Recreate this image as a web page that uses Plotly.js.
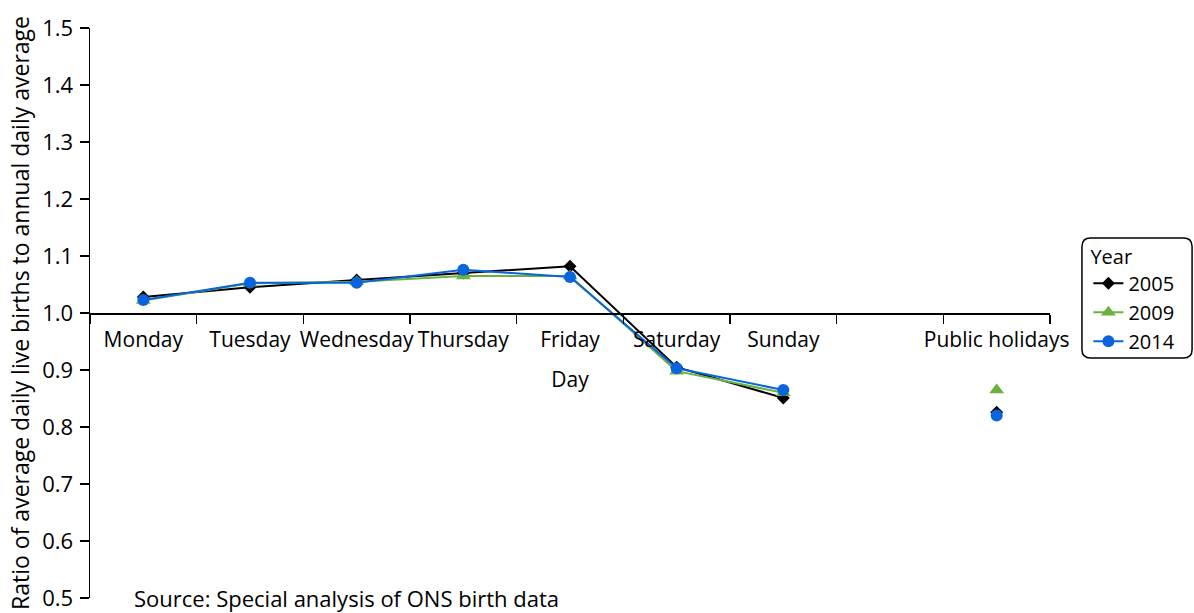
<!DOCTYPE html>
<html>
<head>
<meta charset="utf-8">
<script src="https://cdn.plot.ly/plotly-3.0.1.min.js"></script>
<style>html,body{margin:0;padding:0;background:#fff;}#chart{width:1194px;height:613px;}</style>
</head>
<body>
<div id="chart"></div>
<script>
const days = ["Monday", "Tuesday", "Wednesday", "Thursday", "Friday", "Saturday", "Sunday", " ", "Public holidays"];
const years = ["2005", "2009", "2014"];
const y2005 = [1.028, 1.045, 1.058, 1.070, 1.082, 0.905, 0.851, null, 0.826];
const y2009 = [1.022, 1.052, 1.055, 1.065, 1.065, 0.898, 0.860, null, 0.865];
const y2014 = [1.023, 1.053, 1.053, 1.076, 1.063, 0.903, 0.865, null, 0.820];
const yTicks = [0.5, 0.6, 0.7, 0.8, 0.9, 1.0, 1.1, 1.2, 1.3, 1.4, 1.5];

const FONT = "Open Sans, Noto Sans, DejaVu Sans, sans-serif";
const FS = 22;
const series = [
  {name: years[0], y: y2005, color: "#000000", symbol: "diamond", size: 10},
  {name: years[1], y: y2009, color: "#6ab23e", symbol: "triangle-up", size: 13},
  {name: years[2], y: y2014, color: "#0a64dc", symbol: "circle", size: 12}
];
const traces = series.map(s => ({
  type: "scatter", mode: "lines+markers", x: days, y: s.y, name: s.name,
  connectgaps: false, cliponaxis: false,
  line: {color: s.color, width: 2},
  marker: {color: s.color, symbol: s.symbol, size: s.size}
}));

// rounded legend box
const x0 = 1.0333, x1 = 1.148, yb = 0.421, yt = 0.6316, rx = 0.009, ry = 0.015;
const boxPath = `M ${x0+rx} ${yb} L ${x1-rx} ${yb} Q ${x1} ${yb} ${x1} ${yb+ry} L ${x1} ${yt-ry} Q ${x1} ${yt} ${x1-rx} ${yt} L ${x0+rx} ${yt} Q ${x0} ${yt} ${x0} ${yt-ry} L ${x0} ${yb+ry} Q ${x0} ${yb} ${x0+rx} ${yb} Z`;

const layout = {
  width: 1194, height: 613,
  margin: {l: 90, r: 144, t: 28, b: 15},
  paper_bgcolor: "#fff", plot_bgcolor: "#fff",
  font: {family: FONT, size: FS, color: "#000"},
  showlegend: true,
  legend: {
    x: 1.040, y: 0.632, xanchor: "left", yanchor: "top",
    title: {text: "Year", font: {size: 20}},
    font: {size: 20}, bgcolor: "rgba(0,0,0,0)", borderwidth: 0,
    tracegroupgap: 0
  },
  xaxis: {
    type: "category", categoryorder: "array", categoryarray: days,
    range: [-0.5, 8.5], anchor: "free", position: 0.5,
    showline: true, linecolor: "#000", linewidth: 1.5,
    ticks: "outside", ticklen: 9, tickwidth: 1.5, tickcolor: "#000",
    tickson: "boundaries", showgrid: false, zeroline: false,
    tickangle: 0, tickfont: {size: 21}, ticklabelstandoff: 7,
    title: {text: "Day", font: {size: 21}, standoff: 20}
  },
  yaxis: {
    range: [0.5, 1.5], tickvals: yTicks, tickformat: ".1f",
    showline: true, linecolor: "#000", linewidth: 1.5,
    ticks: "outside", ticklen: 9, tickwidth: 1.5, tickcolor: "#000",
    showgrid: false, zeroline: false,
    tickfont: {size: FS}, ticklabelstandoff: 2,
    title: {text: "Ratio of average daily live births to annual daily average", font: {size: 23}, standoff: 6}
  },
  shapes: [{
    type: "path", xref: "paper", yref: "paper", path: boxPath,
    line: {color: "#000", width: 1.5}, fillcolor: "rgba(0,0,0,0)"
  }],
  annotations: [{
    text: "Source: Special analysis of ONS birth data",
    xref: "paper", yref: "paper", x: 0.0435, y: 0.0, xanchor: "left", yanchor: "middle",
    showarrow: false, font: {size: FS}
  }]
};
Plotly.newPlot("chart", traces, layout, {displayModeBar: false, staticPlot: true});
</script>
</body>
</html>
